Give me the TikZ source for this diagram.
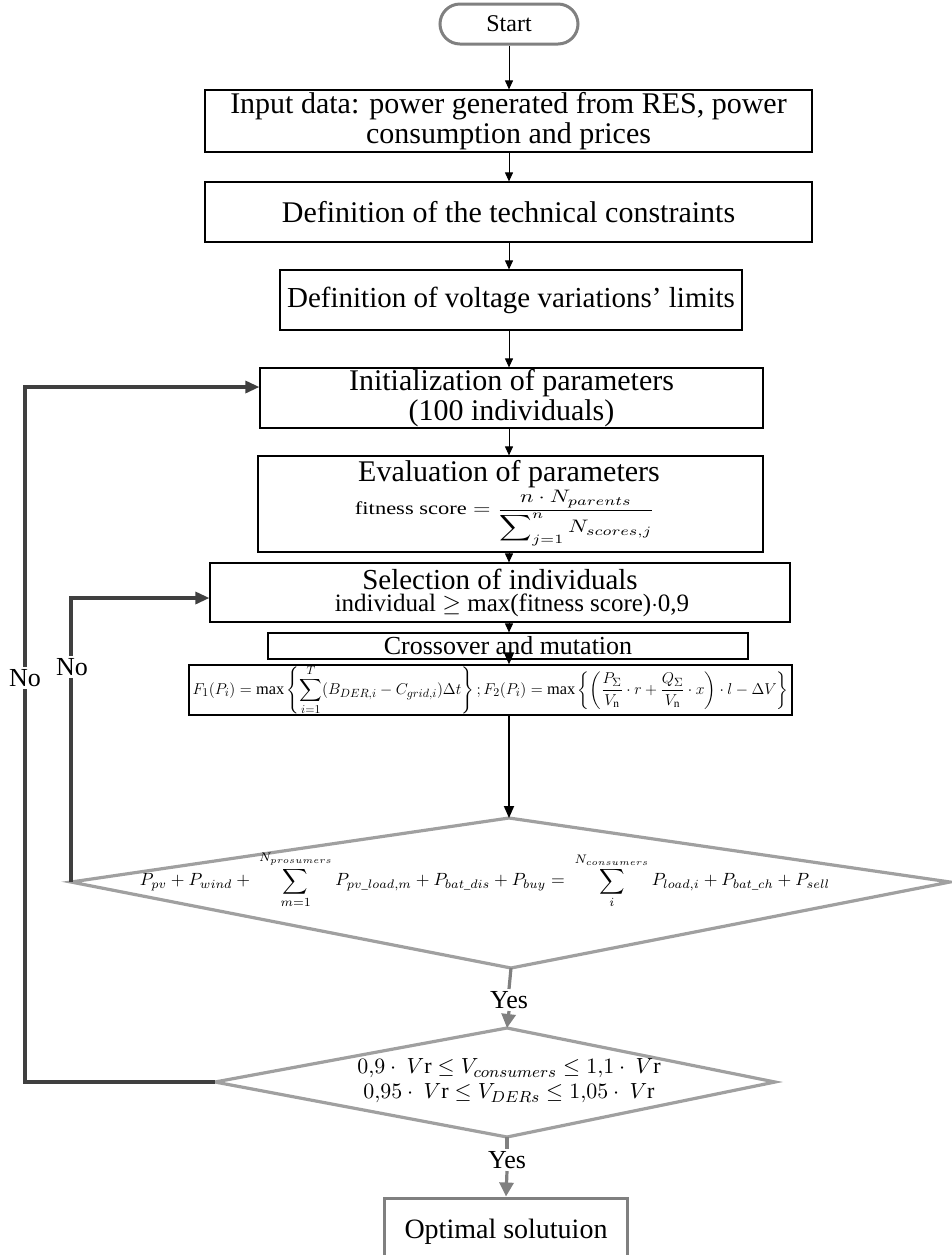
\documentclass[tikz,border=0pt]{standalone}
\usepackage{amsmath}
\usepackage{fontspec}
\setmainfont{Liberation Serif}
\usepackage{graphicx}
\usetikzlibrary{arrows.meta,calc}
\definecolor{loopgray}{HTML}{3F3F3F}
\definecolor{midgray}{HTML}{808080}
\definecolor{diagray}{HTML}{A0A0A0}
\begin{document}
\begin{tikzpicture}[x=0.5pt,y=-0.5pt,
  box/.style={draw=black, line width=0.6pt, inner sep=0pt, align=center, font=\fontsize{15}{15}\selectfont},
  startbox/.style={draw=midgray, line width=1.5pt, rounded corners=10pt, inner sep=0pt, minimum width=69pt, minimum height=20pt, font=\fontsize{12}{14}\selectfont},
  optbox/.style={draw=midgray, line width=1.5pt, inner sep=0pt, minimum width=121.5pt, minimum height=34pt, font=\fontsize{14}{16}\selectfont},
  arr/.style={-{Triangle[length=4.5pt,width=4pt]}, line width=0.5pt},
  arrthick/.style={-{Triangle[length=6pt,width=5pt]}, line width=0.9pt},
  loopline/.style={draw=loopgray, line width=1.6pt, -{Triangle[length=7pt,width=6pt]}},
  yesline/.style={draw=midgray, line width=1.6pt},
  yesarr/.style={draw=midgray, line width=1.6pt, -{Triangle[length=7pt,width=7pt]}},
  decision/.style={draw=diagray, line width=1.6pt},
  lbl/.style={font=\fontsize{13}{15}\selectfont, fill=white, inner sep=1pt},
  txt/.style={inner sep=0pt, align=center}
]
\useasboundingbox (0,0) rectangle (952,1255);
\coordinate (sp) at (509,0);

\node[startbox] (start) at (509,24) {Start};
\node[box, minimum width=303.5pt, minimum height=31pt] (input) at (508.5,121) {Input data: power generated from RES, power\\consumption and prices};
\node[box, minimum width=303.5pt, minimum height=30pt] (tech) at (508.5,212) {Definition of the technical constraints};
\node[box, minimum width=231pt, minimum height=30pt, font=\fontsize{14.5}{15}\selectfont] (volt) at (511,300) {Definition of voltage variations’ limits};
\node[box, minimum width=251.5pt, minimum height=30pt] (init) at (511.5,398) {Initialization of parameters\\(100 individuals)};

\node[box, minimum width=252.5pt, minimum height=48pt] (eval) at (510.5,504) {};
\node[txt, font=\fontsize{15}{15}\selectfont] (evalt) at (509,474) {Evaluation of parameters};
\node[txt] (evalf) at (505,518) {\resizebox*{150pt}{28pt}{$\text{fitness score}=\dfrac{n\cdot N_{parents}}{\displaystyle\sum\nolimits_{j=1}^{n}N_{scores,j}}$}};

\node[box, minimum width=290pt, minimum height=29.5pt] (sel) at (500,592.5) {};
\node[txt, font=\fontsize{14.5}{15}\selectfont] (selt) at (500,579) {Selection of individuals};
\node[txt, font=\fontsize{12.5}{14}\selectfont] (sels) at (512,605) {individual $\geq$\ max(fitness score)$\cdot$0,9};

\node[box, minimum width=240pt, minimum height=13pt, font=\fontsize{13}{13}\selectfont] (cross) at (508,646) {Crossover and mutation};
\node[box, minimum width=301.5pt, minimum height=22pt] (fbox) at (490.5,690) {\resizebox{298pt}{!}{$\displaystyle F_1(P_i)=\max\left\{\sum_{i=1}^{T}(B_{DER,i}-C_{grid,i})\Delta t\right\};F_2(P_i)=\max\left\{\left(\frac{P_\Sigma}{V_\mathrm{n}}\cdot r+\frac{Q_\Sigma}{V_\mathrm{n}}\cdot x\right)\cdot l-\Delta V\right\}$}};

% decision 1
\coordinate (d1t) at (509,818);
\coordinate (d1r) at (950,882);
\coordinate (d1b) at (511,968);
\coordinate (d1l) at (71,882);
\draw[decision] (d1t) -- (d1r) -- (d1b) -- (d1l) -- cycle;
\node[txt] (d1) at (485,880) {\resizebox{345pt}{!}{$\displaystyle P_{pv}+P_{wind}+\;\sum_{m=1}^{N_{prosumers}}P_{pv\_load,m}+P_{bat\_dis}+P_{buy}=\;\sum_{i}^{N_{consumers}}P_{load,i}+P_{bat\_ch}+P_{sell}$}};

% decision 2
\coordinate (d2t) at (507,1028);
\coordinate (d2r) at (775,1082);
\coordinate (d2b) at (507,1137);
\coordinate (d2l) at (215,1082);
\draw[decision] (d2t) -- (d2r) -- (d2b) -- (d2l) -- cycle;
\node[txt, font=\fontsize{11}{12.5}\selectfont] (d2) at (509,1081) {$0{,}9\cdot\ V\mathrm{r}\le V_{consumers}\le 1{,}1\cdot\ V\mathrm{r}$\\$0{,}95\cdot\ V\mathrm{r}\le V_{DERs}\le 1{,}05\cdot\ V\mathrm{r}$};

\node[optbox] (opt) at (506,1232) {Optimal solutuion};

% main arrows
\draw[arr] (start.south -| sp) -- (input.north -| sp);
\draw[arr] (input.south -| sp) -- (tech.north -| sp);
\draw[arr] (tech.south -| sp) -- (volt.north -| sp);
\draw[arr] (volt.south -| sp) -- (init.north -| sp);
\draw[arr] (init.south -| sp) -- (eval.north -| sp);
\draw[arr] (eval.south -| sp) -- (sel.north -| sp);
\draw[arr] (sel.south -| sp) -- (cross.north -| sp);
\draw[arrthick] (cross.south -| sp) -- (fbox.north -| sp);
\draw[arrthick] (fbox.south -| sp) -- (d1t);

% yes branches
\node[lbl] (yes1) at (509,1000) {Yes};
\draw[yesline] (d1b) -- (yes1.north);
\draw[yesarr] (yes1.south) -- (d2t);
\node[lbl] (yes2) at (507,1160) {Yes};
\draw[yesline] (d2b) -- (yes2.north);
\draw[yesarr] (yes2.south) -- (opt.north);

% no loops
\coordinate (o1) at (25,387);
\draw[loopline] (d2l) -| (o1) -- (o1 -| init.west);
\coordinate (i1) at (71,598);
\draw[loopline] (d1l) -| (i1) -- (i1 -| sel.west);
\node[lbl] (no2) at (25,678) {No};
\node[lbl] (no1) at (72,667) {No};
\end{tikzpicture}
\end{document}
